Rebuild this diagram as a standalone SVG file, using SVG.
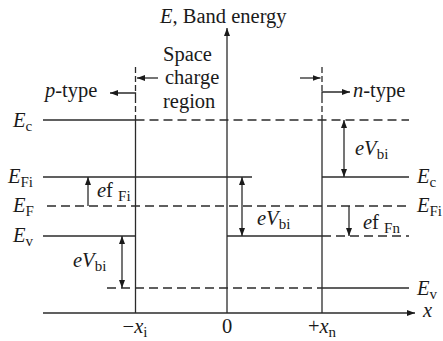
<svg xmlns="http://www.w3.org/2000/svg" width="443" height="341" viewBox="0 0 443 341">
<style>
.ln{stroke:#2b2b2b;stroke-width:1.3;fill:none}
.ds{stroke:#2b2b2b;stroke-width:1.3;fill:none;stroke-dasharray:9,5}
.dv{stroke:#2b2b2b;stroke-width:1.3;fill:none;stroke-dasharray:6,3}
text{font-family:'Liberation Serif','DejaVu Serif',serif;font-size:20.5px;fill:#1a1a1a}
.i{font-style:italic}
.s{font-size:15px}
</style>
<defs>
<marker id="ah" viewBox="0 0 8 6" refX="8" refY="3" markerWidth="8" markerHeight="6" markerUnits="userSpaceOnUse" orient="auto-start-reverse">
<path d="M0,0 L8,3 L0,6 Z" fill="#1a1a1a"/>
</marker>
</defs>
<g id="axes">
<line class="ln" x1="43" y1="313" x2="415" y2="313" marker-end="url(#ah)"/>
<line class="ln" x1="227" y1="313" x2="227" y2="28" marker-end="url(#ah)"/>
<text class="i" x="160" y="23">E<tspan font-style="normal">, Band energy</tspan></text>
<text class="i" x="423" y="317">x</text>
<text x="135" y="333" text-anchor="middle">−<tspan class="i">x</tspan><tspan class="s" dy="4">i</tspan></text>
<text x="227" y="333" text-anchor="middle">0</text>
<text x="322" y="333" text-anchor="middle">+<tspan class="i">x</tspan><tspan class="s" dy="4">n</tspan></text>
</g>
<g id="boundaries">
<line class="dv" x1="135.5" y1="67" x2="135.5" y2="92"/>
<line class="dv" x1="135.5" y1="106" x2="135.5" y2="120"/>
<line class="ln" x1="135.5" y1="120" x2="135.5" y2="313"/>
<line class="dv" x1="322" y1="67" x2="322" y2="91"/>
<line class="dv" x1="322" y1="106" x2="322" y2="120"/>
<line class="ln" x1="322" y1="120" x2="322" y2="313"/>
</g>
<g id="space-charge-region">
<text x="163" y="61">Space</text>
<text x="165" y="84">charge</text>
<text x="163" y="108">region</text>
<line class="ln" x1="158" y1="78" x2="137" y2="78" marker-end="url(#ah)"/>
<line class="ln" x1="300" y1="78" x2="320.5" y2="78" marker-end="url(#ah)"/>
</g>
<g id="p-type">
<text x="45" y="97"><tspan class="i">p</tspan>-type</text>
<path class="ln" d="M135.5,103 V93 H110" marker-end="url(#ah)"/>
</g>
<g id="n-type">
<text x="353" y="97"><tspan class="i">n</tspan>-type</text>
<path class="ln" d="M322,103 V92 H350" marker-end="url(#ah)"/>
</g>
<g id="levels">
<line class="ln" x1="43" y1="120" x2="135.5" y2="120"/>
<line class="ds" x1="135.5" y1="120" x2="409" y2="120"/>
<line class="ln" x1="43" y1="177" x2="252" y2="177"/>
<line class="ln" x1="322" y1="177" x2="409" y2="177"/>
<line class="ds" x1="47" y1="206" x2="409" y2="206"/>
<line class="ln" x1="43" y1="236" x2="135.5" y2="236"/>
<line class="ln" x1="227" y1="236" x2="322" y2="236"/>
<line class="ds" x1="322" y1="236" x2="409" y2="236"/>
<line class="ds" x1="107" y1="288" x2="322" y2="288"/>
<line class="ln" x1="322" y1="288" x2="409" y2="288"/>
</g>
<g id="level-labels">
<text class="i" x="13" y="127">E<tspan class="s" font-style="normal" dy="4">c</tspan></text>
<text class="i" x="8" y="183">E<tspan class="s" font-style="normal" dy="4">Fi</tspan></text>
<text class="i" x="13" y="212">E<tspan class="s" font-style="normal" dy="4">F</tspan></text>
<text class="i" x="13" y="242">E<tspan class="s" font-style="normal" dy="4">v</tspan></text>
<text class="i" x="417" y="183">E<tspan class="s" font-style="normal" dy="4">c</tspan></text>
<text class="i" x="417" y="212">E<tspan class="s" font-style="normal" dy="4">Fi</tspan></text>
<text class="i" x="417" y="295">E<tspan class="s" font-style="normal" dy="4">v</tspan></text>
</g>
<g id="connectors">
<line class="ln" x1="88" y1="206" x2="88" y2="177" marker-end="url(#ah)"/>
<line class="ln" x1="122" y1="236" x2="122" y2="288" marker-start="url(#ah)" marker-end="url(#ah)"/>
<line class="ln" x1="242" y1="177" x2="242" y2="236" marker-start="url(#ah)" marker-end="url(#ah)"/>
<line class="ln" x1="344" y1="120" x2="344" y2="177" marker-start="url(#ah)" marker-end="url(#ah)"/>
<line class="ln" x1="349" y1="206" x2="349" y2="236" marker-end="url(#ah)"/>
</g>
<g id="connector-labels">
<text x="97" y="197"><tspan class="i">e</tspan>f <tspan class="s" dy="4">Fi</tspan></text>
<text x="73" y="267"><tspan class="i">eV</tspan><tspan class="s" dy="4">bi</tspan></text>
<text x="257" y="225"><tspan class="i">eV</tspan><tspan class="s" dy="4">bi</tspan></text>
<text x="355" y="155"><tspan class="i">eV</tspan><tspan class="s" dy="4">bi</tspan></text>
<text x="363" y="229"><tspan class="i">e</tspan>f <tspan class="s" dy="4">Fn</tspan></text>
</g>
</svg>
